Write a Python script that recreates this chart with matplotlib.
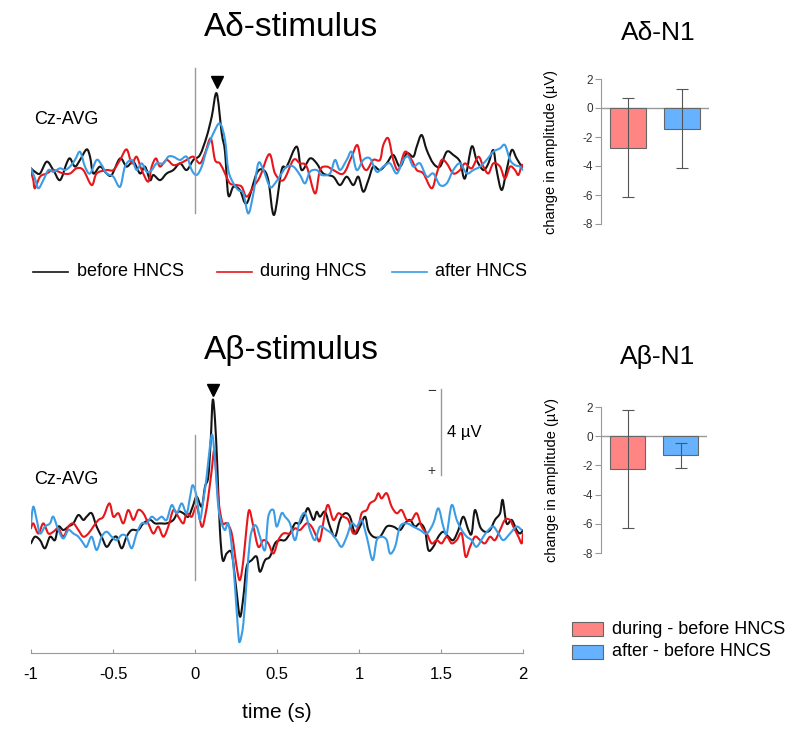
import numpy as np
import matplotlib
matplotlib.use("Agg")
import matplotlib.pyplot as plt
from matplotlib.lines import Line2D
from matplotlib.patches import Rectangle, PathPatch
from matplotlib.path import Path

plt.rcParams['font.family'] = ['Liberation Sans', 'DejaVu Sans']
plt.rcParams['axes.unicode_minus'] = False

# ---------------- data (time in s, amplitude in microvolt, negative up) ----------------
ad_before = [(-1.0,-0.08),(-0.976,0.08),(-0.945,0.16),(-0.904,-0.39),(-0.864,0.0),(-0.823,0.47),
    (-0.783,-0.31),(-0.762,-0.54),(-0.732,-0.16),(-0.701,-0.47),(-0.661,-0.96),(-0.640,-0.62),
    (-0.620,0.16),(-0.579,-0.16),(-0.539,0.16),(-0.508,0.23),(-0.457,-0.54),(-0.417,-0.16),
    (-0.376,-0.39),(-0.335,0.16),(-0.305,-0.16),(-0.274,0.47),(-0.254,0.23),(-0.213,0.47),
    (-0.173,0.16),(-0.132,0.0),(-0.091,-0.31),(-0.051,0.0),(-0.010,-0.47),(0.030,-0.70),
    (0.071,-1.55),(0.102,-2.48),(0.132,-3.57),(0.163,-1.71),(0.183,-0.85),(0.203,1.16),
    (0.234,0.78),(0.274,0.93),(0.315,1.55),(0.376,0.16),(0.417,0.0),(0.447,0.47),(0.482,2.09),
    (0.528,0.0),(0.559,-0.16),(0.620,-1.09),(0.650,0.0),(0.701,-0.54),(0.742,-0.31),(0.782,0.16),
    (0.843,0.31),(0.884,0.70),(0.925,0.31),(0.965,0.70),(0.996,0.31),(1.026,1.01),(1.057,0.47),
    (1.087,-0.16),(1.128,0.0),(1.169,-0.31),(1.209,-0.70),(1.250,-0.16),(1.291,-0.78),
    (1.331,-0.62),(1.352,-1.09),(1.382,-1.63),(1.413,-0.93),(1.453,-0.31),(1.494,-0.16),
    (1.535,-0.85),(1.575,-0.70),(1.616,-0.39),(1.646,0.39),(1.687,-1.09),(1.717,-0.47),
    (1.758,0.0),(1.789,-0.31),(1.819,-0.93),(1.839,0.0),(1.870,0.93),(1.900,0.0),(1.931,-0.93),
    (1.961,-0.54),(1.992,-0.16),(2.0,-0.08)]

ad_during = [(-1.0,0.08),(-0.986,0.47),(-0.976,0.85),(-0.945,0.31),(-0.904,0.16),(-0.864,0.0),
    (-0.803,0.16),(-0.762,0.16),(-0.722,-0.08),(-0.681,0.0),(-0.630,0.70),(-0.600,0.16),
    (-0.539,0.0),(-0.498,0.0),(-0.457,-0.47),(-0.417,-0.96),(-0.386,-0.31),(-0.356,-0.62),
    (-0.325,0.0),(-0.285,0.54),(-0.264,-0.16),(-0.238,-0.54),(-0.213,-0.16),(-0.173,-0.47),
    (-0.132,-0.23),(-0.091,-0.31),(-0.051,-0.47),(-0.010,-0.62),(0.030,-0.31),(0.061,-0.78),
    (0.096,-1.47),(0.122,-0.47),(0.152,-0.31),(0.183,0.16),(0.213,0.62),(0.254,0.70),
    (0.285,0.78),(0.315,1.24),(0.356,0.78),(0.396,0.31),(0.453,-0.74),(0.488,0.16),(0.539,0.47),
    (0.600,-0.47),(0.640,-0.31),(0.681,-0.16),(0.732,1.09),(0.762,0.0),(0.803,-0.16),
    (0.843,0.0),(0.905,0.16),(0.955,-0.62),(0.990,-1.16),(1.016,-0.31),(1.047,0.0),
    (1.087,-0.47),(1.128,-0.47),(1.148,-1.16),(1.179,-1.47),(1.209,-0.47),(1.240,0.0),
    (1.280,-0.85),(1.321,-0.47),(1.352,0.0),(1.392,0.16),(1.443,0.85),(1.474,0.16),
    (1.504,-0.47),(1.535,-0.31),(1.575,0.16),(1.616,0.0),(1.646,-0.31),(1.687,-0.08),
    (1.728,-0.62),(1.758,-0.16),(1.789,0.16),(1.819,-0.31),(1.860,-0.16),(1.890,0.39),
    (1.921,-0.16),(1.951,0.0),(1.972,0.23),(1.992,-0.23),(2.0,-0.16)]

ad_after = [(-1.0,-0.08),(-0.976,0.39),(-0.955,0.85),(-0.925,0.47),(-0.894,0.0),(-0.864,0.08),
    (-0.823,-0.08),(-0.793,0.0),(-0.762,-0.16),(-0.732,-0.47),(-0.701,-0.85),(-0.671,-0.16),
    (-0.640,0.16),(-0.600,-0.47),(-0.569,-0.23),(-0.539,0.16),(-0.498,0.31),(-0.457,0.78),
    (-0.427,-0.16),(-0.386,-0.47),(-0.356,0.0),(-0.325,-0.31),(-0.295,0.08),(-0.264,0.0),
    (-0.234,-0.31),(-0.193,-0.31),(-0.163,-0.62),(-0.132,-0.62),(-0.091,-0.47),(-0.051,-0.62),
    (-0.020,0.0),(0.010,0.23),(0.041,-0.16),(0.071,-0.93),(0.112,-1.71),(0.152,-2.17),
    (0.183,-1.40),(0.203,0.0),(0.234,0.62),(0.264,0.93),(0.295,1.09),(0.325,2.02),(0.356,1.09),
    (0.386,-0.31),(0.417,0.0),(0.457,0.78),(0.488,0.62),(0.528,0.16),(0.559,-0.16),(0.600,-0.16),
    (0.640,0.23),(0.671,0.62),(0.701,0.08),(0.742,0.0),(0.772,0.23),(0.823,0.16),(0.854,-0.47),
    (0.884,0.0),(0.925,-0.47),(0.955,-0.85),(0.986,0.0),(1.026,-0.47),(1.067,-0.54),
    (1.108,0.08),(1.148,-0.16),(1.189,-0.31),(1.230,0.16),(1.270,-0.47),(1.301,-0.62),
    (1.331,-0.16),(1.372,-0.31),(1.413,0.31),(1.453,0.16),(1.494,0.70),(1.535,0.62),
    (1.575,0.0),(1.616,-0.31),(1.657,0.16),(1.697,0.0),(1.738,-0.16),(1.778,-0.47),
    (1.819,-0.85),(1.860,-1.01),(1.890,-1.16),(1.921,-0.47),(1.951,-0.23),(1.982,-0.16),(2.0,0.0)]

ab_before = [(-1.0,0.62),(-0.976,0.31),(-0.945,0.47),(-0.915,0.85),(-0.884,0.31),(-0.854,0.47),
    (-0.833,-0.16),(-0.803,0.0),(-0.772,-0.16),(-0.742,-0.31),(-0.711,-0.70),(-0.681,-0.47),
    (-0.661,-0.62),(-0.630,-0.78),(-0.600,-0.16),(-0.569,0.31),(-0.539,0.78),(-0.508,0.47),
    (-0.478,0.31),(-0.447,0.85),(-0.417,0.31),(-0.386,0.0),(-0.346,0.0),(-0.315,-0.31),
    (-0.274,-0.47),(-0.244,-0.31),(-0.213,-0.31),(-0.173,-0.31),(-0.132,-0.47),(-0.102,-0.85),
    (-0.071,-0.78),(-0.041,-0.62),(-0.014,-1.09),(0.010,-1.55),(0.041,-1.09),(0.061,-2.02),
    (0.081,-2.48),(0.096,-4.19),(0.108,-6.05),(0.122,-5.12),(0.136,-2.95),(0.152,0.0),
    (0.169,1.40),(0.193,1.09),(0.224,1.09),(0.250,2.64),(0.274,4.03),(0.295,3.10),(0.315,1.71),
    (0.346,1.40),(0.376,1.24),(0.396,1.94),(0.427,1.40),(0.457,1.24),(0.488,0.62),(0.518,0.47),
    (0.549,0.47),(0.579,0.16),(0.610,-0.31),(0.640,-0.31),(0.671,-0.78),(0.691,-1.01),
    (0.722,-0.47),(0.742,-0.85),(0.762,-0.62),(0.793,-0.85),(0.823,-0.16),(0.854,0.31),
    (0.884,-0.47),(0.915,-0.78),(0.945,-0.62),(0.976,0.16),(1.006,-0.16),(1.037,-0.62),
    (1.057,0.0),(1.087,0.31),(1.128,0.31),(1.169,-0.16),(1.209,-0.16),(1.250,0.0),(1.280,-0.31),
    (1.311,-0.47),(1.341,-0.16),(1.372,-0.31),(1.402,0.0),(1.423,0.93),(1.453,0.78),(1.484,0.31),
    (1.514,0.08),(1.545,0.31),(1.575,0.47),(1.606,0.0),(1.636,-0.62),(1.667,0.0),(1.687,0.16),
    (1.707,-0.93),(1.738,-0.16),(1.768,0.08),(1.799,0.0),(1.829,-0.47),(1.860,-0.78),
    (1.876,-1.40),(1.900,-0.31),(1.931,-0.47),(1.961,0.0),(1.982,0.16),(2.0,0.0)]

ab_during = [(-1.0,-0.08),(-0.986,-0.31),(-0.955,0.16),(-0.925,-0.31),(-0.894,0.16),(-0.864,0.08),
    (-0.833,-0.08),(-0.803,0.31),(-0.772,-0.16),(-0.742,-0.31),(-0.711,0.0),(-0.681,0.31),
    (-0.650,0.16),(-0.620,-0.16),(-0.589,-0.47),(-0.559,-0.62),(-0.522,-1.24),(-0.498,-0.62),
    (-0.467,-0.78),(-0.437,-0.31),(-0.407,-0.93),(-0.376,-0.47),(-0.346,-0.93),(-0.315,-0.78),
    (-0.285,-0.31),(-0.254,0.16),(-0.224,-0.16),(-0.193,0.31),(-0.163,-0.16),(-0.132,-0.93),
    (-0.102,-0.62),(-0.071,-0.31),(-0.051,-0.78),(-0.020,-0.62),(0.010,-1.09),(0.041,-0.16),
    (0.061,-0.62),(0.081,-1.55),(0.102,-2.79),(0.118,-3.72),(0.132,-2.33),(0.148,-1.09),
    (0.169,-0.31),(0.193,-0.31),(0.224,0.16),(0.254,1.71),(0.274,2.33),(0.295,1.40),
    (0.315,-0.16),(0.331,-0.93),(0.356,-0.16),(0.386,0.78),(0.417,0.47),(0.447,0.62),
    (0.478,1.09),(0.508,0.47),(0.539,0.16),(0.579,0.16),(0.610,-0.08),(0.640,0.0),(0.681,-0.31),
    (0.711,-0.16),(0.742,0.31),(0.762,0.47),(0.793,-0.78),(0.813,-1.16),(0.843,-0.47),
    (0.874,-0.78),(0.905,-0.62),(0.935,-0.47),(0.965,0.16),(0.996,-0.16),(1.016,-0.78),
    (1.047,-0.93),(1.067,-1.24),(1.098,-1.40),(1.118,-1.71),(1.138,-1.47),(1.169,-1.71),
    (1.199,-1.09),(1.230,-0.78),(1.260,-0.93),(1.291,-0.47),(1.321,-0.47),(1.352,-0.78),
    (1.382,-0.16),(1.413,0.16),(1.443,0.62),(1.474,0.47),(1.504,0.62),(1.535,0.31),(1.565,0.62),
    (1.596,0.47),(1.626,0.16),(1.650,1.24),(1.677,0.78),(1.707,0.31),(1.738,0.47),(1.768,0.62),
    (1.799,0.31),(1.829,0.47),(1.860,0.0),(1.890,-0.47),(1.921,-0.47),(1.941,-0.16),(1.972,0.31),
    (1.992,0.62),(2.0,0.16)]

ab_after = [(-1.0,-0.31),(-0.986,-1.09),(-0.965,-0.47),(-0.945,0.16),(-0.915,-0.16),(-0.884,-0.31),
    (-0.864,-0.62),(-0.833,0.0),(-0.803,0.39),(-0.772,0.0),(-0.742,0.16),(-0.711,0.31),
    (-0.681,0.62),(-0.661,0.78),(-0.630,0.31),(-0.600,0.93),(-0.569,0.31),(-0.539,0.08),
    (-0.508,0.31),(-0.478,0.47),(-0.447,0.23),(-0.417,0.31),(-0.386,0.85),(-0.356,0.16),
    (-0.325,-0.31),(-0.295,-0.31),(-0.264,-0.62),(-0.234,-0.47),(-0.203,-0.62),(-0.173,-0.47),
    (-0.142,-1.16),(-0.112,-0.78),(-0.081,-1.24),(-0.051,-0.78),(-0.030,-1.55),(-0.014,-2.09),
    (0.010,-1.55),(0.030,-0.47),(0.051,-1.40),(0.071,-2.48),(0.091,-3.88),(0.106,-4.42),
    (0.122,-3.26),(0.142,-1.09),(0.163,-0.31),(0.183,0.0),(0.203,-0.31),(0.224,0.78),
    (0.244,2.64),(0.264,4.81),(0.274,5.19),(0.295,4.34),(0.315,2.33),(0.335,0.47),(0.356,-0.16),
    (0.376,-0.16),(0.396,0.31),(0.427,0.93),(0.447,-0.62),(0.478,-0.93),(0.498,-0.16),
    (0.528,-0.78),(0.549,-0.62),(0.579,-0.31),(0.610,0.47),(0.640,-0.47),(0.671,-0.78),
    (0.701,0.0),(0.732,0.47),(0.762,-0.16),(0.803,0.0),(0.833,0.16),(0.864,0.47),(0.894,0.78),
    (0.925,0.31),(0.955,-0.31),(0.986,-0.16),(1.016,-0.47),(1.047,0.31),(1.083,1.40),
    (1.108,0.47),(1.138,0.31),(1.169,0.47),(1.189,1.09),(1.220,0.78),(1.250,-0.16),
    (1.291,-0.31),(1.331,-0.16),(1.372,0.0),(1.413,0.16),(1.453,-0.31),(1.484,-1.01),
    (1.514,-0.16),(1.535,0.16),(1.565,-1.16),(1.596,-0.47),(1.626,0.0),(1.657,0.31),
    (1.687,0.47),(1.717,0.78),(1.758,0.31),(1.789,0.0),(1.819,-0.16),(1.850,0.16),(1.880,0.47),
    (1.921,0.16),(1.961,-0.16),(1.992,0.0)]

# N1 peak latencies (s) and amplitudes (µV) marked by triangles
ad_peak = (0.132, -4.1)
ab_peak = (0.108, -6.5)

# bar charts: change in amplitude (µV) and error
bar_labels = ["during - before HNCS", "after - before HNCS"]
ad_bar_vals = [-2.73, -1.42]
ad_bar_err = [3.42, 2.70]
ab_bar_vals = [-2.24, -1.32]
ab_bar_err = [4.03, 0.85]

trace_labels = ["before HNCS", "during HNCS", "after HNCS"]
x_ticks = [-1, -0.5, 0, 0.5, 1, 1.5, 2]
x_ticklabels = ["-1", "-0.5", "0", "0.5", "1", "1.5", "2"]
bar_yticks = [-8, -6, -4, -2, 0, 2]

# ---------------- styling ----------------
C_BEFORE = "#141414"
C_DURING = "#e8161b"
C_AFTER = "#3b9ce6"
C_RED_FILL = "#ff8585"
C_BLUE_FILL = "#66b2ff"
GRAY = "#999999"

W, H = 800, 732
fig = plt.figure(figsize=(8, 7.32), dpi=100)


def fx(x):
    return x / W


def fy(y):
    return 1 - y / H


def add_ax(l, t, r, b):
    return fig.add_axes([l / W, 1 - b / H, (r - l) / W, (b - t) / H])


def smooth_path(pts):
    """Smooth curve through the points, drawn by matplotlib as cubic Bezier segments."""
    p = np.array(pts, dtype=float)
    n = len(p)
    verts = [p[0]]
    codes = [Path.MOVETO]
    for i in range(n - 1):
        p0 = p[i - 1] if i > 0 else p[i]
        p1 = p[i]
        p2 = p[i + 1]
        p3 = p[i + 2] if i + 2 < n else p[i + 1]
        c1 = p1 + (p2 - p0) / 6.0
        c2 = p2 - (p3 - p1) / 6.0
        verts += [c1, c2, p2]
        codes += [Path.CURVE4] * 3
    return Path(verts, codes)


def draw_traces(ax, traces):
    for data, c in zip(traces, [C_BEFORE, C_DURING, C_AFTER]):
        patch = PathPatch(smooth_path(data), facecolor="none", edgecolor=c, lw=1.5,
                          joinstyle="round", capstyle="round")
        ax.add_patch(patch)


# top waveform (A-delta)
ax1 = add_ax(31, 60, 523, 230)
ax1.set_xlim(-1, 2)
ax1.set_ylim(2.79, -5.12)
ax1.axis("off")
ax1.plot([0, 0], [2.0, -4.74], color=GRAY, lw=1)
draw_traces(ax1, [ad_before, ad_during, ad_after])
ax1.plot([ad_peak[0]], [ad_peak[1]], marker="v", color="black", ms=8, clip_on=False)

# bottom waveform (A-beta)
ax2 = add_ax(31, 380, 523, 653)
ax2.set_xlim(-1, 2)
ax2.set_ylim(5.72, -6.98)
for s in ["top", "left", "right"]:
    ax2.spines[s].set_visible(False)
ax2.spines["bottom"].set_color(GRAY)
ax2.set_yticks([])
ax2.set_xticks(x_ticks)
ax2.set_xticklabels(x_ticklabels)
ax2.tick_params(axis="x", direction="in", length=3, color=GRAY, labelsize=12, pad=10)
ax2.plot([0, 0], [2.33, -4.42], color=GRAY, lw=1)
draw_traces(ax2, [ab_before, ab_during, ab_after])
ax2.plot([ab_peak[0]], [ab_peak[1]], marker="v", color="black", ms=8, clip_on=False)
ax2.set_xlabel("time (s)", fontsize=15, labelpad=15)
# scale bar 4 µV
ax2.plot([1.5, 1.5], [-6.56, -2.56], color=GRAY, lw=1, clip_on=False)
ax2.text(1.443, -6.45, "\u2212", fontsize=11, ha="center", va="center", color="#333")
ax2.text(1.443, -2.75, "+", fontsize=10, ha="center", va="center", color="#333")
ax2.text(1.535, -4.56, "4 \u00b5V", fontsize=12, ha="left", va="center")

# titles and labels
fig.text(fx(291), fy(27), "A\u03b4-stimulus", fontsize=24, ha="center", va="center")
fig.text(fx(291), fy(350), "A\u03b2-stimulus", fontsize=24, ha="center", va="center")
fig.text(fx(658), fy(33), "A\u03b4-N1", fontsize=19, ha="center", va="center")
fig.text(fx(658), fy(357), "A\u03b2-N1", fontsize=19, ha="center", va="center")
fig.text(fx(34), fy(120), "Cz-AVG", fontsize=13, ha="left", va="center")
fig.text(fx(34), fy(480), "Cz-AVG", fontsize=13, ha="left", va="center")

# line legend
for (x1, x2, xt), c, lab in zip([(33, 68, 77), (217, 252, 260), (392, 427, 435)],
                                [C_BEFORE, C_DURING, C_AFTER], trace_labels):
    fig.add_artist(Line2D([fx(x1), fx(x2)], [fy(272), fy(272)], color=c, lw=1.2,
                          transform=fig.transFigure))
    fig.text(fx(xt), fy(272), lab, fontsize=13, ha="left", va="center")


# bar charts
def draw_bars(ax, vals, errs):
    ax.set_xlim(0, 2)
    ax.set_ylim(-8, 2)
    ax.axhline(0, color=GRAY, lw=1, zorder=0.5)
    ax.bar([0.5, 1.5], vals, width=0.667, color=[C_RED_FILL, C_BLUE_FILL],
           edgecolor="#666666", linewidth=0.8, yerr=errs,
           error_kw=dict(ecolor="#555555", elinewidth=0.8, capsize=4, capthick=0.8))
    for s in ["top", "right", "bottom"]:
        ax.spines[s].set_visible(False)
    ax.spines["left"].set_color(GRAY)
    ax.set_xticks([])
    ax.set_yticks(bar_yticks)
    ax.tick_params(axis="y", length=4, color=GRAY, labelsize=8.5, labelcolor="#333", pad=2)
    ax.set_ylabel("change in amplitude (\u00b5V)", fontsize=10.5)
    ax.yaxis.set_label_coords(-0.40, 0.5)


b1 = add_ax(601, 79, 709, 224)
draw_bars(b1, ad_bar_vals, ad_bar_err)
b2 = add_ax(601, 407, 707, 553)
draw_bars(b2, ab_bar_vals, ab_bar_err)

# bar legend
for yc, col, lab in zip([629, 652], [C_RED_FILL, C_BLUE_FILL], bar_labels):
    fig.add_artist(Rectangle((fx(572), fy(yc + 7)), 31 / W, 14 / H, facecolor=col,
                             edgecolor="#666666", lw=0.8, transform=fig.transFigure))
    fig.text(fx(612), fy(yc), lab, fontsize=13, ha="left", va="center")

fig.savefig("out.png", dpi=100)
